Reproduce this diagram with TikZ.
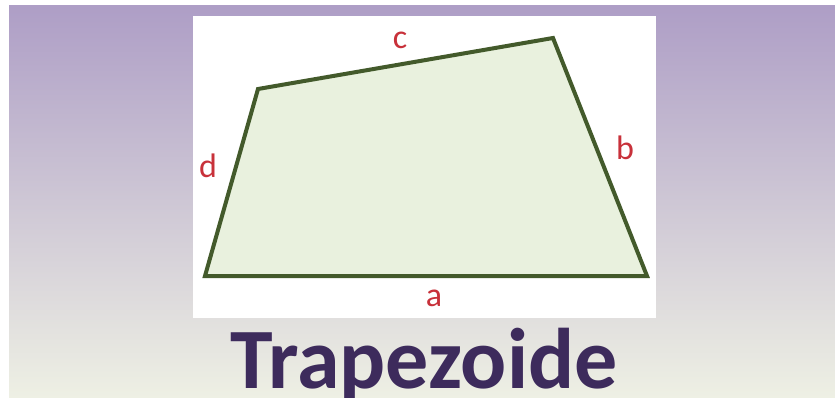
\documentclass[tikz,border=0pt]{standalone}
\usepackage{fontspec}
\setmainfont{Carlito}
\usetikzlibrary{positioning,calc}
\definecolor{tzTop}{HTML}{AE9EC6}
\definecolor{tzMid}{HTML}{D7D5DC}
\definecolor{tzBottom}{HTML}{EEF0E4}
\definecolor{tzEdge}{HTML}{435A2B}
\definecolor{tzFill}{HTML}{E9F1DE}
\definecolor{tzLabel}{HTML}{C8313A}
\definecolor{tzTitle}{HTML}{3D2B5C}
\tikzset{
  backdrop/.style={top color=tzTop, middle color=tzMid, bottom color=tzBottom},
  card/.style={fill=white},
  quad/.style={draw=tzEdge, fill=tzFill, line width=4pt},
  sidelabel/.style={text=tzLabel, font=\fontsize{34}{40}\selectfont, inner sep=0pt},
  title/.style={text=tzTitle, font=\fontsize{86}{96}\selectfont\bfseries, inner sep=0pt, anchor=base}
}

\begin{document}
\begin{tikzpicture}[x=1pt, y=-1pt]
  \useasboundingbox (0,0) rectangle (835,398);
  \fill[white] (0,0) rectangle (835,398);
  \shade[backdrop] (9,6) rectangle (835,398);
  \fill[card] (193,16) rectangle (656,318);
  % corners of the quadrilateral
  \coordinate (A) at (205,276);
  \coordinate (B) at (647,276);
  \coordinate (C) at (553,38);
  \coordinate (D) at (258,89);
  \draw[quad] (A) -- (B) -- (C) -- (D) -- cycle;
  % side names
  \node[sidelabel] (la) at (434,298) {a};
  \node[sidelabel] (lb) at (625,148) {b};
  \node[sidelabel] (lc) at (400,40) {c};
  \node[sidelabel] (ld) at (208,166) {d};
  \node[title] (name) at (424,388) {Trapezoide};
\end{tikzpicture}
\end{document}
